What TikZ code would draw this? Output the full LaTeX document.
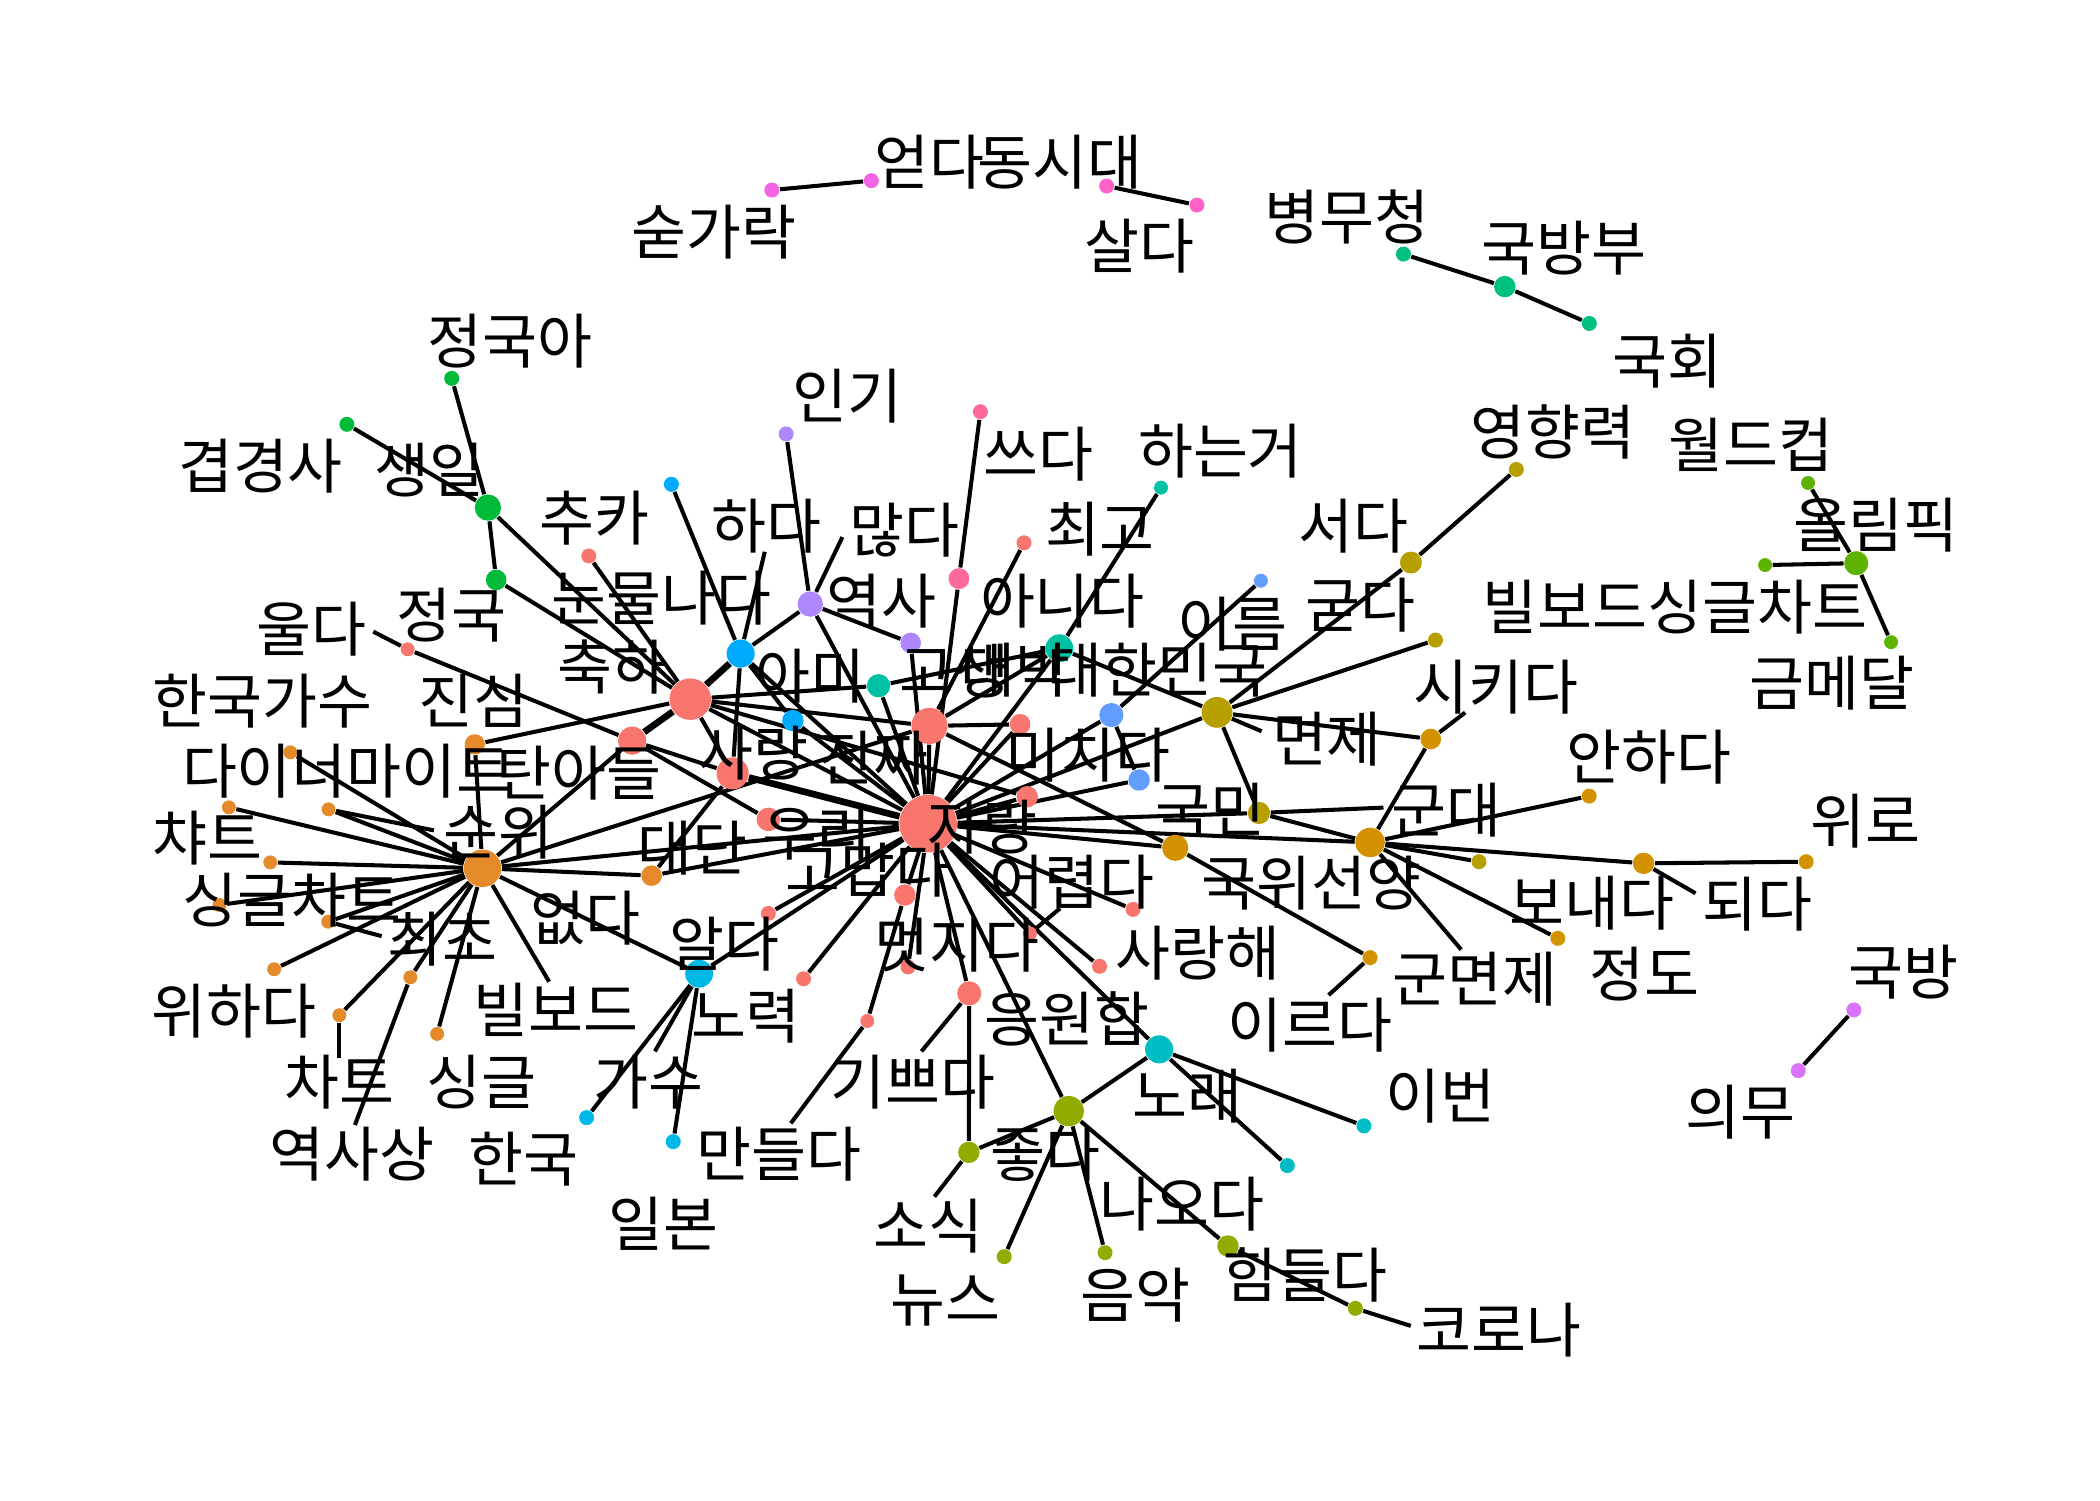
\documentclass[tikz,border=0pt]{standalone}
\usepackage{fontspec}
\newfontfamily\krfont{Noto Sans CJK KR}
\pgfdeclarelayer{bg}
\pgfsetlayers{bg,main}
\definecolor{cSal}{HTML}{F8766D}
\definecolor{cOra}{HTML}{E58A2A}
\definecolor{cGold}{HTML}{D39200}
\definecolor{cOli}{HTML}{B79F00}
\definecolor{cYg}{HTML}{93AA00}
\definecolor{cGrA}{HTML}{5EB300}
\definecolor{cGrB}{HTML}{00BA38}
\definecolor{cTg}{HTML}{00C07E}
\definecolor{cTeal}{HTML}{00C1A3}
\definecolor{cCyan}{HTML}{00BDC4}
\definecolor{cCb}{HTML}{00B8E5}
\definecolor{cBlue}{HTML}{00ABFD}
\definecolor{cLb}{HTML}{619CFF}
\definecolor{cPur}{HTML}{AE87FF}
\definecolor{cVio}{HTML}{DB72FB}
\definecolor{cMag}{HTML}{F564E3}
\definecolor{cPink}{HTML}{FF63C9}
\definecolor{cRose}{HTML}{FF6A9A}
\newcommand{\mydot}[5]{\node[dot,fill=#4,rr=#5] (#1) at (#2,#3) {};}
\newcommand{\mylab}[4]{\node[lab] (#1) at (#2,#3) {#4};}
\begin{document}
\begin{tikzpicture}[x=0.0133929cm,y=-0.0133929cm,
  dot/.style={circle,inner sep=0pt,draw=none},
  rr/.style={minimum size={2*#1*0.38106pt}},
  lab/.style={font=\krfont\fontsize{17}{19}\selectfont,inner sep=0pt,anchor=center},
  edge/.style={line width=1.15pt,black},
  heavy/.style={line width=1.9pt,black}]
\useasboundingbox (0,0) rectangle (1568,1120);
% ---- dots ----
\mydot{p1}{576.3}{141.9}{cMag}{5.6}
\mydot{p2}{650.6}{134.9}{cMag}{5.6}
\mydot{p3}{826.3}{138.9}{cPink}{5.6}
\mydot{p4}{893.7}{153.1}{cPink}{5.6}
\mydot{g1}{1047.9}{189.7}{cTg}{5.6}
\mydot{g2}{1123.6}{214}{cTg}{8}
\mydot{g3}{1186.7}{241.5}{cTg}{5.6}
\mydot{w1}{1350}{360.6}{cGrA}{5.2}
\mydot{w2}{1386}{420.5}{cGrA}{9}
\mydot{w3}{1317.9}{421.9}{cGrA}{5.2}
\mydot{w4}{1412}{479.5}{cGrA}{5.2}
\mydot{v1}{1384.2}{754.1}{cVio}{5.6}
\mydot{v2}{1342.7}{799.4}{cVio}{5.6}
\mydot{s1}{337.3}{282.5}{cGrB}{5.6}
\mydot{s2}{259}{316.8}{cGrB}{5.6}
\mydot{s3}{364.3}{379}{cGrB}{9.8}
\mydot{s4}{370.5}{433}{cGrB}{7.7}
\mydot{b1}{501.3}{361.6}{cBlue}{5.6}
\mydot{b2}{553}{488}{cBlue}{10.5}
\mydot{b3}{592}{538}{cBlue}{8}
\mydot{u1}{587}{324}{cPur}{5.6}
\mydot{u2}{605}{451}{cPur}{9.5}
\mydot{u3}{680}{480}{cPur}{7.7}
\mydot{r1}{732}{307.4}{cRose}{5.6}
\mydot{r2}{716}{432}{cRose}{7.8}
\mydot{t1}{866.9}{364.1}{cTeal}{5.2}
\mydot{t2}{791}{484}{cTeal}{10.4}
\mydot{t3}{656}{512}{cTeal}{8.7}
\mydot{l1}{941.5}{433.6}{cLb}{5.2}
\mydot{l2}{829.8}{533.9}{cLb}{9}
\mydot{l3}{850.5}{582.4}{cLb}{8}
\mydot{ob}{908.7}{531.9}{cOli}{11.5}
\mydot{ok}{940}{607}{cOli}{8.3}
\mydot{osd}{1053.5}{420}{cOli}{8.2}
\mydot{oyh}{1132.2}{350.5}{cOli}{5.6}
\mydot{ogd}{1071.8}{477.9}{cOli}{5.6}
\mydot{os}{1104.3}{643.4}{cOli}{5.6}
\mydot{db}{1023}{629}{cGold}{11}
\mydot{d2}{877.5}{633}{cGold}{9.8}
\mydot{dsk}{1068.3}{551.8}{cGold}{7.7}
\mydot{dah}{1186.6}{594.4}{cGold}{5.6}
\mydot{dwe}{1227.2}{644.6}{cGold}{8}
\mydot{dwr}{1348.6}{643.4}{cGold}{5.6}
\mydot{dbn}{1163.2}{700.6}{cGold}{5.6}
\mydot{dir}{1023}{715}{cGold}{5.6}
\mydot{yb}{798}{829.6}{cYg}{11.3}
\mydot{yss}{723.4}{860.4}{cYg}{8}
\mydot{yns}{749.8}{938.3}{cYg}{5.6}
\mydot{yea}{825.1}{935.3}{cYg}{5.6}
\mydot{yhd}{916.9}{930.3}{cYg}{8}
\mydot{ykr}{1012}{976.9}{cYg}{5.6}
\mydot{cb}{865.5}{783.5}{cCyan}{10.5}
\mydot{cib}{1018.4}{840.6}{cCyan}{5.6}
\mydot{cn}{961.2}{870.3}{cCyan}{5.6}
\mydot{ab}{522}{727}{cCb}{10.4}
\mydot{ahk}{438}{834.5}{cCb}{5.6}
\mydot{ail}{502.7}{852.4}{cCb}{5.6}
\mydot{bb}{360.3}{648.3}{cOra}{14}
\mydot{jin}{354.5}{555.8}{cOra}{7.6}
\mydot{o1}{216.8}{561.7}{cOra}{5.2}
\mydot{o2}{170.9}{602.8}{cOra}{5.2}
\mydot{o3}{245.3}{604.3}{cOra}{5.2}
\mydot{o4}{201.8}{643.9}{cOra}{5.2}
\mydot{o5}{163.9}{675.7}{cOra}{5.2}
\mydot{o6}{245.1}{688.2}{cOra}{5.2}
\mydot{o7}{204.7}{723.7}{cOra}{5.2}
\mydot{o8}{306.4}{729.7}{cOra}{5.2}
\mydot{o9}{253.4}{758}{cOra}{5.2}
\mydot{o10}{326.4}{772}{cOra}{5.2}
\mydot{o11}{486.5}{653.8}{cOra}{7.7}
\mydot{A}{693}{615}{cSal}{21.5}
\mydot{B}{515.4}{522}{cSal}{15.5}
\mydot{C}{694}{542}{cSal}{13.5}
\mydot{D}{472}{553}{cSal}{10.5}
\mydot{E}{547}{577.4}{cSal}{12}
\mydot{F}{573.7}{611.8}{cSal}{8.8}
\mydot{G}{439.6}{415.1}{cSal}{5.6}
\mydot{H}{304.4}{484.8}{cSal}{5.2}
\mydot{I}{761.7}{540.8}{cSal}{7.7}
\mydot{J}{767}{594.9}{cSal}{8}
\mydot{K}{675.6}{668.3}{cSal}{8}
\mydot{L}{573.7}{682}{cSal}{5.6}
\mydot{M}{600}{730.8}{cSal}{5.6}
\mydot{N}{678}{722}{cSal}{5.6}
\mydot{O}{769}{697}{cSal}{5.2}
\mydot{P}{846}{679}{cSal}{5.6}
\mydot{Q}{821}{721.5}{cSal}{5.6}
\mydot{R}{723.7}{741.7}{cSal}{9}
\mydot{S}{647.6}{762.3}{cSal}{5.2}
\mydot{T}{764.6}{405.3}{cSal}{5.6}
% ---- label anchors for repel segments ----
\coordinate (q1) at (324,620);
\coordinate (q2) at (285,699);
\coordinate (q3) at (253.4,790);
\coordinate (q4) at (265,840);
\coordinate (q5) at (410,733);
\coordinate (q6) at (571,412);
\coordinate (q7) at (629,401);
\coordinate (q8) at (942,546);
\coordinate (q9) at (1033,603);
\coordinate (q10) at (1091,709);
\coordinate (q11) at (1094,532);
\coordinate (q12) at (1266,667);
\coordinate (q13) at (992,743);
\coordinate (q14) at (688,785);
\coordinate (q15) at (590.5,838.7);
\coordinate (q16) at (697.7,893.5);
\coordinate (q17) at (1053.4,990);
\coordinate (q18) at (489,785);
\coordinate (q19) at (278.7,471.6);
\coordinate (q20) at (791.5,678.2);
% ---- edges ----
\begin{pgfonlayer}{bg}
\foreach \a/\b in {p1/p2,p3/p4,g1/g2,g2/g3,w1/w2,w2/w4,w3/w2,v1/v2,
  s1/s3,s2/s3,s3/s4,s3/B,s4/B,
  b1/b2,b2/u2,b2/E,b2/A,b2/b3,b3/A,
  u1/u2,u2/u3,u2/A,u3/A,r1/r2,r2/A,
  t1/t2,t3/t2,B/t3,t3/A,t2/ob,t2/A,C/t2,
  l1/l2,l2/l3,l3/A,l2/A,
  ob/ok,ob/dsk,ob/osd,ob/ogd,ob/A,osd/oyh,ok/db,A/ok,
  db/dsk,db/dah,db/os,db/dwe,dwe/dwr,db/dbn,d2/dir,A/db,A/d2,C/d2,
  yb/cb,yb/yss,yb/yns,yb/yea,yb/yhd,yhd/ykr,A/yb,R/yss,
  cb/cib,cb/cn,A/cb,
  ab/ahk,ab/ail,ab/bb,ab/A,
  bb/o1,bb/o2,bb/o3,bb/o4,bb/o5,bb/o6,bb/o7,bb/o8,bb/o9,bb/o10,
  bb/jin,jin/B,bb/o11,o11/A,bb/D,bb/C,bb/A,o11/E,
  G/B,H/D,B/E,B/C,B/A,B/J,D/E,D/F,F/A,C/A,C/I,I/A,C/T,J/A,
  K/A,K/S,L/A,M/A,N/A,O/A,P/A,Q/A,R/A}
  \draw[edge] (\a) -- (\b);
\foreach \a/\b in {b2/B,B/D,E/A}
  \draw[heavy] (\a) -- (\b);
\foreach \a/\b in {q1/o3,q2/o6,q3/o9,q4/o8,q5/bb,q6/b2,q7/u2,q8/ob,q9/ok,
  q10/db,q11/dsk,q12/dwe,q13/dir,q14/R,q15/S,q16/yss,q17/ykr,q18/ab,q19/H,q20/O}
  \draw[edge] (\a) -- (\b);
\end{pgfonlayer}
% ---- labels ----
\mylab{x01}{694}{121.3}{얻다}
\mylab{x02}{791.5}{121}{동시대}
\mylab{x03}{532.8}{173.6}{숟가락}
\mylab{x04}{850.5}{183.6}{살다}
\mylab{x05}{1005.5}{161.8}{병무청}
\mylab{x06}{1167.6}{185.4}{국방부}
\mylab{x07}{1245}{269.5}{국회}
\mylab{x08}{381}{255}{정국아}
\mylab{x09}{633}{296}{인기}
\mylab{x10}{194.5}{348.4}{겹경사}
\mylab{x11}{321}{351}{생일}
\mylab{x12}{775.5}{339}{쓰다}
\mylab{x13}{911.3}{336.6}{하는거}
\mylab{x14}{1159.7}{322.2}{영향력}
\mylab{x15}{1307.5}{332.2}{월드컵}
\mylab{x16}{1400.8}{392}{올림픽}
\mylab{x17}{443.6}{387}{추카}
\mylab{x18}{572}{393}{하다}
\mylab{x19}{675.5}{395.7}{많다}
\mylab{x20}{821.3}{395}{최고}
\mylab{x21}{1010.5}{392.6}{서다}
\mylab{x22}{232.9}{469.8}{울다}
\mylab{x23}{337}{459}{정국}
\mylab{x24}{494}{446.7}{눈물나다}
\mylab{x25}{658.3}{449.2}{역사}
\mylab{x26}{793.3}{449.2}{아니다}
\mylab{x27}{920}{466}{이름}
\mylab{x28}{1015.8}{451.7}{굳다}
\mylab{x29}{1250.6}{453.3}{빌보드싱글차트}
\mylab{x30}{457.3}{497.8}{축하}
\mylab{x31}{604.8}{505.2}{아미}
\mylab{x32}{713}{501}{고생}
\mylab{x33}{758}{500}{대박}
\mylab{x34}{864}{500}{대한민국}
\mylab{x35}{196.2}{523.3}{한국가수}
\mylab{x36}{353.7}{523.3}{진심}
\mylab{x37}{1116.7}{513.3}{시키다}
\mylab{x38}{1368}{510.3}{금메달}
\mylab{x39}{990.8}{551.9}{면제}
\mylab{x40}{562.7}{562.5}{사랑}
\mylab{x41}{652}{566}{진짜}
\mylab{x42}{812.6}{563.7}{미치다}
\mylab{x43}{259}{576}{다이너마이트}
\mylab{x44}{432}{577}{탄아들}
\mylab{x46}{1231}{565.6}{안하다}
\mylab{x47}{372}{621}{순위}
\mylab{x48}{154.6}{626}{챠트}
\mylab{x49}{904}{604.8}{국민}
\mylab{x50}{1080}{604.8}{군대}
\mylab{x51}{517}{633.4}{대단}
\mylab{x52}{610}{622}{우리}
\mylab{x53}{733.6}{617.8}{자랑}
\mylab{x54}{1393}{613}{위로}
\mylab{x55}{218}{672}{싱글차트}
\mylab{x56}{647.8}{649.6}{고맙다}
\mylab{x57}{800.1}{658.9}{어렵다}
\mylab{x58}{979.2}{659.6}{국위선양}
\mylab{x59}{1189}{674.5}{보내다}
\mylab{x60}{1312.2}{675}{되다}
\mylab{x61}{436.8}{685.7}{없다}
\mylab{x62}{330.7}{701}{최초}
\mylab{x63}{541.2}{705}{알다}
\mylab{x64}{714.3}{705.6}{멋지다}
\mylab{x65}{894.7}{711.8}{사랑해}
\mylab{x66}{174.6}{754.7}{위하다}
\mylab{x67}{415.4}{754}{빌보드}
\mylab{x68}{557}{759}{노력}
\mylab{x69}{796.8}{760.4}{응원합}
\mylab{x70}{1101.4}{731}{군면제}
\mylab{x71}{1227.8}{727.4}{정도}
\mylab{x72}{1421.6}{726}{국방}
\mylab{x73}{978}{765.3}{이르다}
\mylab{x74}{253.8}{808}{차트}
\mylab{x75}{359.5}{807.6}{싱글}
\mylab{x76}{484.5}{808}{가수}
\mylab{x77}{681.6}{808.3}{기쁘다}
\mylab{x78}{886.9}{818.2}{노래}
\mylab{x79}{1075.7}{818.8}{이번}
\mylab{x80}{1299.3}{830.7}{의무}
\mylab{x81}{262.9}{861.7}{역사상}
\mylab{x82}{391.2}{865.4}{한국}
\mylab{x83}{581.6}{861.8}{만들다}
\mylab{x84}{780.7}{861.8}{좋다}
\mylab{x85}{882.5}{899.1}{나오다}
\mylab{x86}{495.4}{914}{일본}
\mylab{x87}{693.2}{915.3}{소식}
\mylab{x88}{705.7}{970.7}{뉴스}
\mylab{x89}{847.6}{967}{음악}
\mylab{x90}{974.5}{952}{힘들다}
\mylab{x91}{1119}{993}{코로나}
\end{tikzpicture}
\end{document}
